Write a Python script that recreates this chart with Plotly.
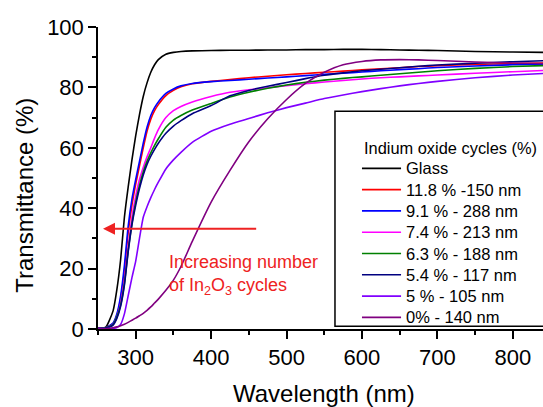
import plotly.graph_objects as go

wavelength = [250, 260, 270, 275, 280, 285, 290, 295, 300, 305, 310, 315, 320, 325, 330,
              340, 350, 360, 375, 400, 425, 450, 475, 500, 525, 550, 575, 600, 625, 650,
              675, 700, 750, 800, 840]

glass = [0.3, 0.5, 6, 13, 23, 37, 47, 56, 64, 71, 77, 81.5, 85, 87.5, 89.2,
         91, 91.6, 91.9, 92.1, 92.2, 92.3, 92.3, 92.4, 92.4, 92.5, 92.5, 92.6, 92.6, 92.5, 92.4,
         92.3, 92.2, 91.9, 91.7, 91.6]
in_118 = [0.2, 0.4, 1.8, 4.5, 10, 19, 32, 41, 48, 54, 60, 65.5, 69.5, 72.3, 74.3,
          77.3, 79, 80.2, 81.2, 82, 82.6, 83.2, 83.7, 84.2, 84.6, 85, 85.4, 85.8, 86.2, 86.5,
          86.9, 87.2, 87.6, 87.9, 88.1]
in_91 = [0.2, 0.4, 2, 5, 11, 21, 34, 43, 49.5, 55.5, 61.5, 66.8, 70.7, 73.3, 75.2,
         78, 79.5, 80.5, 81.3, 81.9, 82.3, 82.7, 83.1, 83.5, 83.9, 84.3, 84.7, 85.1, 85.5, 85.9,
         86.2, 86.6, 87.1, 87.5, 87.7]
in_74 = [0.1, 0.3, 1.5, 4, 8.5, 16, 27, 37, 44, 49.5, 53.5, 57, 60, 63.2, 66,
         70, 72.3, 73.7, 75.2, 77, 78.4, 79.2, 79.9, 80.6, 81.2, 81.8, 82.3, 82.8, 83.2, 83.5,
         83.8, 84.1, 84.7, 85.2, 85.6]
in_63 = [0.1, 0.3, 1.5, 4, 8, 15, 26, 35, 42, 47.5, 52, 55.5, 58.3, 60.8, 63,
         66.8, 69.2, 70.7, 72.5, 74.7, 76.8, 78.4, 79.7, 80.8, 81.7, 82.4, 83, 83.5, 84, 84.5,
         85, 85.5, 86.3, 86.9, 87.2]
in_54 = [0.1, 0.3, 1.3, 3.5, 7.5, 14.5, 25.5, 34.5, 41, 46.5, 51, 54.5, 57.2, 59.5, 61.5,
         64.8, 67.2, 69, 71.3, 74, 77.2, 79, 80.4, 81.6, 82.9, 84, 84.8, 85.5, 86, 86.5,
         87, 87.4, 88, 88.5, 88.8]
in_5 = [0, 0.05, 0.2, 0.5, 1.5, 5, 11, 17, 22.5, 30, 37, 40.5, 43.5, 46.2, 48.6,
        53, 56, 58.5, 61.8, 65.5, 67.8, 69.7, 71.6, 73.3, 74.8, 76.3, 77.5, 78.6, 79.6, 80.5,
        81.3, 82, 83.2, 84.1, 84.6]
in_0 = [0, 0.1, 0.4, 0.7, 1.1, 1.6, 2.2, 2.9, 3.6, 4.4, 5.2, 6.2, 7.3, 8.6, 9.9,
        12.8, 16.2, 20.7, 29, 42, 52.5, 62, 69.6, 76, 81.3, 85, 87.5, 88.6, 89.1, 89.2,
        89.1, 88.9, 88.4, 88.1, 87.9]

series_names = ["Glass", "11.8 % -150 nm", "9.1 % - 288 nm", "7.4 % - 213 nm",
                "6.3 % - 188 nm", "5.4 % - 117 nm", "5 % - 105 nm", "0% - 140 nm"]
series_colors = ["#000000", "#ff0000", "#0000ff", "#ff00ff",
                 "#008000", "#000080", "#8000ff", "#800080"]
series_values = [glass, in_118, in_91, in_74, in_63, in_54, in_5, in_0]

legend_title = "Indium oxide cycles (%)"
x_title = "Wavelength (nm)"
y_title = "Transmittance (%)"
note_text = "Increasing number<br>of In<sub>2</sub>O<sub>3</sub> cycles"

FONT = "Liberation Sans, Arial, sans-serif"

fig = go.Figure()
for name, color, vals in zip(series_names, series_colors, series_values):
    fig.add_trace(go.Scatter(x=wavelength, y=vals, mode="lines", name=name,
                             line=dict(color=color, width=1.6, shape="spline", smoothing=0.5),
                             showlegend=False))

shapes = []
annotations = []

# legend box
shapes.append(dict(type="rect", xref="x", yref="y", x0=564.2, x1=900, y0=0.9, y1=72.1,
                   line=dict(color="black", width=1.5), fillcolor="white", layer="above"))
annotations.append(dict(xref="x", yref="y", x=600, y=59.8, text=legend_title, showarrow=False,
                        xanchor="left", yanchor="middle", font=dict(size=16.4, color="black", family=FONT)))
for i, (name, color) in enumerate(zip(series_names, series_colors)):
    yy = 53.2 - 7.05 * i
    shapes.append(dict(type="line", xref="x", yref="y", x0=600, x1=651.8, y0=yy, y1=yy,
                       line=dict(color=color, width=1.6), layer="above"))
    annotations.append(dict(xref="x", yref="y", x=656, y=yy, text=name, showarrow=False,
                            xanchor="left", yanchor="middle",
                            font=dict(size=16.5, color="black", family=FONT)))

# arrow and note
annotations.append(dict(xref="x", yref="y", x=256.6, y=33.2, ax=461.7, ay=33.2,
                        axref="x", ayref="y", text="", showarrow=True, arrowhead=2,
                        arrowsize=1.2, arrowwidth=2, arrowcolor="#ee2222"))
annotations.append(dict(xref="x", yref="y", x=342, y=18.0, text=note_text, showarrow=False,
                        xanchor="left", yanchor="middle", align="left",
                        font=dict(size=18, color="#ee2222", family=FONT)))

# axis titles
annotations.append(dict(xref="paper", yref="paper", x=-0.165, y=0.443, text=y_title,
                        textangle=-90, showarrow=False, xanchor="center", yanchor="middle",
                        font=dict(size=24, color="black", family=FONT)))
annotations.append(dict(xref="paper", yref="paper", x=0.508, y=-0.213, text=x_title,
                        showarrow=False, xanchor="center", yanchor="middle",
                        font=dict(size=24, color="black", family=FONT)))

fig.update_layout(
    width=543, height=407,
    margin=dict(l=98, r=0, t=27, b=78),
    paper_bgcolor="white", plot_bgcolor="white",
    font=dict(family=FONT, color="black"),
    shapes=shapes, annotations=annotations,
    xaxis=dict(range=[250, 840], tickmode="linear", tick0=300, dtick=100,
               ticks="outside", ticklen=8, tickwidth=1.5, tickcolor="black",
               minor=dict(tick0=250, dtick=50, ticks="outside", ticklen=4, tickwidth=1.5, tickcolor="black"),
               showline=True, linewidth=1.5, linecolor="black", showgrid=False, zeroline=False,
               tickfont=dict(size=22, family=FONT, color="black")),
    xaxis2=dict(range=[250, 840], overlaying="x", side="top", anchor="y",
                tickmode="linear", tick0=300, dtick=100, ticks="inside", ticklen=7,
                tickwidth=1.5, tickcolor="black", showticklabels=False,
                showline=True, linewidth=1.5, linecolor="black", showgrid=False, zeroline=False),
    yaxis=dict(range=[0, 100], tickmode="linear", tick0=0, dtick=20,
               ticks="outside", ticklen=8, tickwidth=1.5, tickcolor="black",
               minor=dict(dtick=10, ticks="outside", ticklen=4, tickwidth=1.5, tickcolor="black"),
               showline=True, linewidth=1.5, linecolor="black", showgrid=False, zeroline=False,
               tickfont=dict(size=22, family=FONT, color="black")),
)

fig.write_html("out.html")
